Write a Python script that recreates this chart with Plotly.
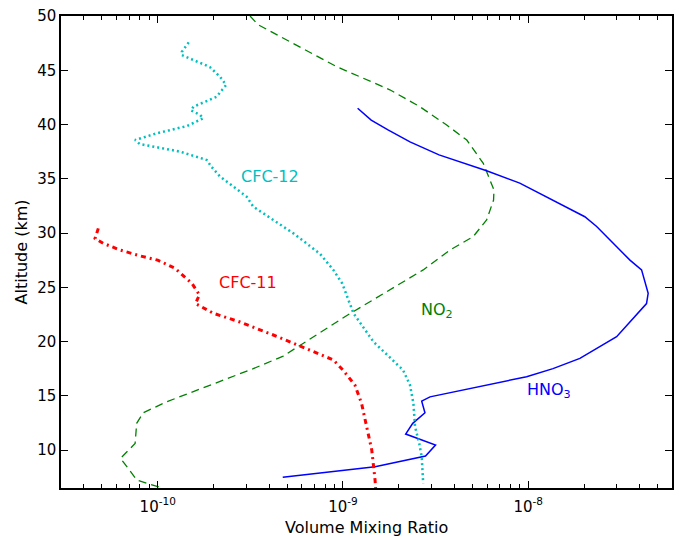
import plotly.graph_objects as go

# HNO3 (blue solid)
hno3_alt = [41.5, 40.4, 39.5, 38.4, 37.2, 35.74, 34.6, 32.4, 31.5, 30.6, 27.5, 26.6, 24.44, 23.5,
            20.44, 18.45, 17.5, 16.76, 14.9, 14.5, 13.44, 12.46, 11.47, 10.46, 9.45, 8.46, 7.48]
hno3_vmr = [1.2e-9, 1.42e-9, 1.75e-9, 2.3e-9, 3.3e-9, 5.96e-9, 9.0e-9, 1.61e-8, 2.02e-8, 2.34e-8, 3.54e-8, 4.09e-8, 4.44e-8, 4.35e-8,
            3.0e-8, 1.9e-8, 1.36e-8, 9.8e-9, 2.95e-9, 2.66e-9, 2.77e-9, 2.38e-9, 2.18e-9, 3.16e-9, 2.79e-9, 1.49e-9, 4.73e-10]

# NO2 (green dashed)
no2_alt = [50.0, 49.2, 45.33, 43.2, 41.64, 39.95, 38.57, 36.42, 33.96, 33.04, 31.2, 29.66, 28.43, 26.6,
           22.4, 20.44, 18.66, 17.5, 15.2, 14.45, 13.44, 12.46, 10.6, 9.23, 8.3, 7.24, 6.47]
no2_vmr = [3.15e-10, 3.48e-10, 9.25e-10, 1.79e-9, 2.6e-9, 3.63e-9, 4.66e-9, 5.72e-9, 6.53e-9, 6.5e-9, 5.96e-9, 5.04e-9, 3.78e-9, 2.71e-9,
           1.05e-9, 6.9e-10, 4.76e-10, 3.28e-10, 1.44e-10, 1.12e-10, 8.36e-11, 7.7e-11, 7.55e-11, 6.3e-11, 6.93e-11, 7.7e-11, 1.07e-10]

# CFC-12 (cyan dotted)
cfc12_alt = [47.57, 46.7, 46.4, 45.3, 44.4, 43.64, 42.56, 41.64, 41.3, 40.9, 40.57, 39.86, 39.19, 38.57, 38.2,
             37.5, 36.73, 36.1, 35.2, 33.35, 32.43, 29.97, 28.1, 26.6, 25.36, 22.6, 19.98, 17.37, 15.99, 14.3,
             12.15, 10.6, 9.38, 6.93]
cfc12_vmr = [1.47e-10, 1.35e-10, 1.35e-10, 1.91e-10, 2.17e-10, 2.34e-10, 2.08e-10, 1.56e-10, 1.51e-10, 1.69e-10, 1.76e-10, 1.44e-10, 9.9e-11, 7.55e-11, 8.0e-11,
             1.32e-10, 1.84e-10, 1.95e-10, 2.17e-10, 3.02e-10, 3.28e-10, 5.4e-10, 7.5e-10, 8.87e-10, 9.9e-10, 1.14e-9, 1.46e-9, 2.11e-9, 2.3e-9, 2.4e-9,
             2.45e-9, 2.58e-9, 2.66e-9, 2.71e-9]

# CFC-11 (red dash-dot)
cfc11_alt = [30.43, 29.5, 29.05, 28.43, 27.9, 27.5, 26.75, 25.36, 24.3, 23.5, 22.6, 21.8, 20.6, 19.2, 18.3,
             17.37, 15.99, 14.3, 12.15, 10.0, 7.24, 6.5]
cfc11_vmr = [4.78e-11, 4.59e-11, 5.08e-11, 6.27e-11, 8.0e-11, 1.0e-10, 1.24e-10, 1.53e-10, 1.68e-10, 1.6e-10, 2.0e-10, 2.78e-10, 4.21e-10, 6.64e-10, 8.87e-10,
             1.0e-9, 1.16e-9, 1.26e-9, 1.34e-9, 1.43e-9, 1.49e-9, 1.5e-9]

x_tickvals = [1e-10, 1e-9, 1e-8]
x_ticktext = ["10<sup>-10</sup>", "10<sup>-9</sup>", "10<sup>-8</sup>"]
y_tickvals = [10, 15, 20, 25, 30, 35, 40, 45, 50]

minor_vals = [m * 10.0 ** e for e in (-11, -10, -9, -8) for m in range(2, 10)]

fig = go.Figure()
fig.add_trace(go.Scatter(x=no2_vmr, y=no2_alt, mode="lines",
                         line=dict(color="green", width=1.3, dash="8px,5px")))
fig.add_trace(go.Scatter(x=hno3_vmr, y=hno3_alt, mode="lines",
                         line=dict(color="blue", width=1.5)))
fig.add_trace(go.Scatter(x=cfc12_vmr, y=cfc12_alt, mode="lines",
                         line=dict(color="#00bfbf", width=2.5, dash="2px,3px")))
fig.add_trace(go.Scatter(x=cfc11_vmr, y=cfc11_alt, mode="lines",
                         line=dict(color="red", width=3, dash="5px,4px,2px,4px")))

tick_font = dict(family="DejaVu Sans", size=15, color="black")
title_font = dict(family="DejaVu Sans", size=16, color="black")
annots = [
    dict(x=-9.395, y=35.25, text="CFC-12", color="#00bfbf"),
    dict(x=-9.513, y=25.4, text="CFC-11", color="red"),
    dict(x=-8.49, y=22.9, text="NO<sub>2</sub>", color="green"),
    dict(x=-7.886, y=15.5, text="HNO<sub>3</sub>", color="blue"),
]
for a in annots:
    fig.add_annotation(x=a["x"], y=a["y"], text=a["text"], showarrow=False,
                       xref="x", yref="y", font=dict(family="DejaVu Sans", size=16, color=a["color"]))

# x-axis title placed below the tick labels
fig.add_annotation(x=0.5, y=0, xref="paper", yref="paper", yshift=-28, yanchor="top",
                   text="Volume Mixing Ratio", showarrow=False, font=title_font)

fig.update_layout(
    width=680, height=538,
    margin=dict(l=61, r=8, t=16, b=50),
    paper_bgcolor="white", plot_bgcolor="white",
    showlegend=False,
    font=tick_font,
    xaxis=dict(type="log", range=[-10.522, -7.224], tickvals=x_tickvals, ticktext=x_ticktext,
               ticks="inside", ticklen=7, tickwidth=1, tickcolor="black",
               tickfont=tick_font, ticklabelstandoff=4, automargin=False,
               minor=dict(ticks="inside", ticklen=4, tickvals=minor_vals, tickcolor="black", showgrid=False),
               showline=True, linecolor="black", linewidth=1.5, mirror="allticks",
               showgrid=False, zeroline=False),
    yaxis=dict(range=[6.5, 50], tickvals=y_tickvals,
               ticks="inside", ticklen=7, tickwidth=1, tickcolor="black",
               tickfont=tick_font, automargin=False,
               showline=True, linecolor="black", linewidth=1.5, mirror="allticks",
               showgrid=False, zeroline=False,
               title=dict(text="Altitude (km)", font=title_font, standoff=6)),
)

fig.write_html("out.html")
